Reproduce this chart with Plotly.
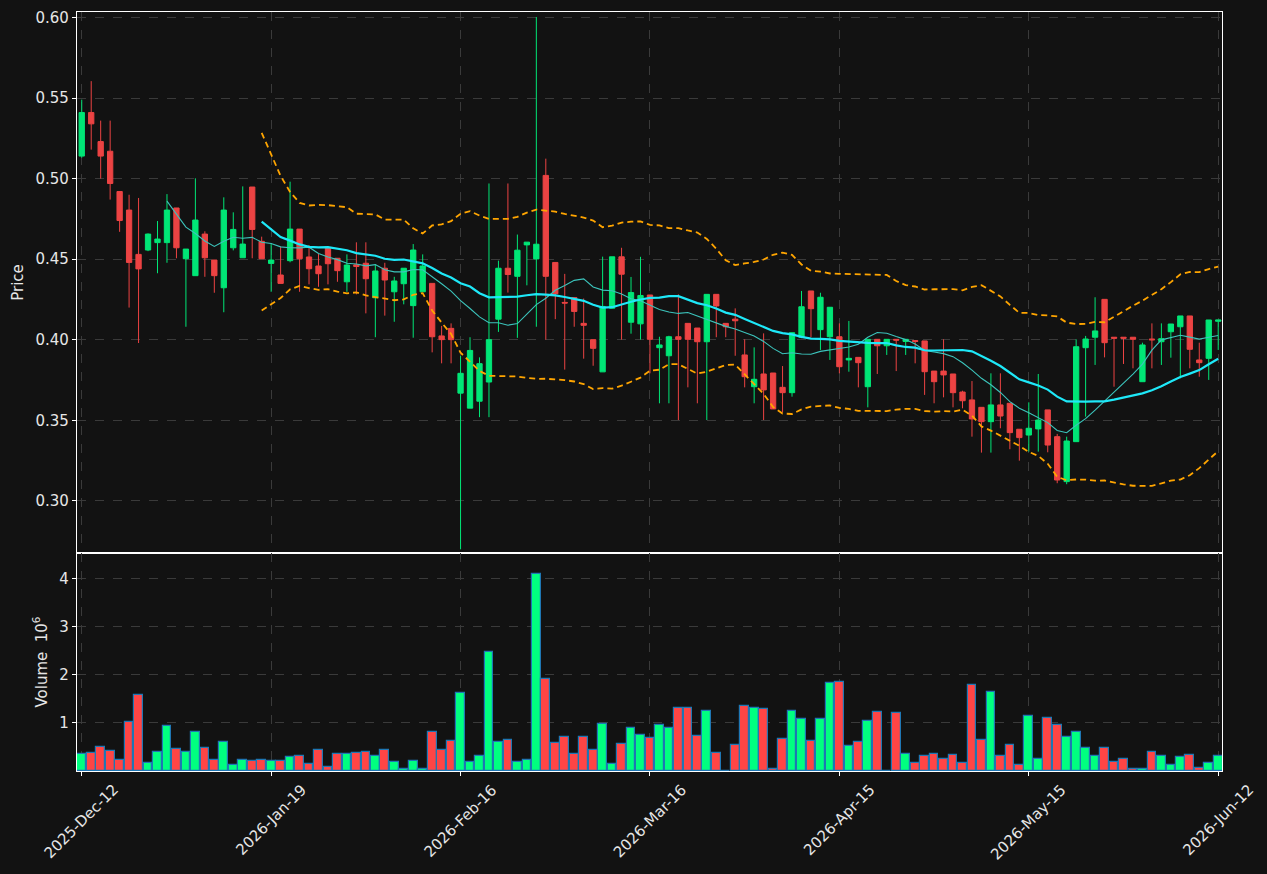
import plotly.graph_objects as go
import pandas as pd

# ---------------- data ----------------
tick_labels = ["2025-Dec-12", "2026-Jan-19", "2026-Feb-16", "2026-Mar-16",
               "2026-Apr-15", "2026-May-15", "2026-Jun-12"]

opens = [0.514, 0.541, 0.523, 0.517, 0.492, 0.4805, 0.453, 0.4557, 0.4603, 0.4603,
         0.4818, 0.4503, 0.4398, 0.4656, 0.4495, 0.4323, 0.4571, 0.4509, 0.4948, 0.4611,
         0.4474, 0.4402, 0.4491, 0.4687, 0.4514, 0.4458, 0.4571, 0.4506, 0.4360, 0.4465,
         0.4475, 0.4261, 0.4444, 0.4298, 0.4348, 0.4212, 0.4298, 0.4350, 0.4024, 0.4071,
         0.3669, 0.3576, 0.3619, 0.3738, 0.4128, 0.4444, 0.4394, 0.4589, 0.4502, 0.5020,
         0.4480, 0.4232, 0.4262, 0.4102, 0.4001, 0.3801, 0.4196, 0.4515, 0.4109, 0.4099,
         0.4278, 0.3951, 0.3901, 0.4019, 0.4102, 0.4073, 0.3988, 0.4282, 0.4102, 0.4128,
         0.3906, 0.3709, 0.3788, 0.3794, 0.3705, 0.3672, 0.4016, 0.4303, 0.4063, 0.4019,
         0.4019, 0.3875, 0.3891, 0.3709, 0.4003, 0.3963, 0.4003, 0.3990, 0.3995, 0.3993,
         0.3806, 0.3806, 0.3788, 0.3676, 0.3627, 0.3581, 0.3492, 0.3596, 0.3606, 0.3445,
         0.3409, 0.3447, 0.3565, 0.3399, 0.3120, 0.3368, 0.3951, 0.4016, 0.4251, 0.4016,
         0.4016, 0.4016, 0.3740, 0.4005, 0.3988, 0.4050, 0.4081, 0.4148, 0.3875, 0.3885,
         0.4115]
highs = [0.549, 0.5605, 0.536, 0.536, 0.492, 0.490, 0.488, 0.466, 0.4737, 0.4904,
         0.4818, 0.4563, 0.5002, 0.4673, 0.4495, 0.4884, 0.4791, 0.4952, 0.4948, 0.4640,
         0.4599, 0.4578, 0.4981, 0.4687, 0.4588, 0.4532, 0.4571, 0.4506, 0.4530, 0.4605,
         0.4605, 0.4468, 0.4478, 0.4391, 0.4444, 0.4594, 0.4530, 0.4350, 0.4086, 0.4102,
         0.3900, 0.4016, 0.3891, 0.4970, 0.4491, 0.4970, 0.4653, 0.4606, 0.6003, 0.5124,
         0.4480, 0.4409, 0.4262, 0.4256, 0.4001, 0.4516, 0.4515, 0.4571, 0.4390, 0.4515,
         0.4278, 0.4019, 0.4025, 0.4282, 0.4102, 0.4073, 0.4282, 0.4282, 0.4102, 0.4195,
         0.4003, 0.3953, 0.4040, 0.3794, 0.3837, 0.4044, 0.4303, 0.4303, 0.4292, 0.4202,
         0.4102, 0.4117, 0.3891, 0.4003, 0.4003, 0.4003, 0.4003, 0.4003, 0.3995, 0.3993,
         0.3806, 0.4003, 0.3788, 0.3684, 0.3744, 0.3581, 0.3792, 0.3792, 0.3606, 0.3445,
         0.3612, 0.3788, 0.3565, 0.3416, 0.3399, 0.4003, 0.4024, 0.4264, 0.4251, 0.4016,
         0.4016, 0.4016, 0.3982, 0.4102, 0.4102, 0.4098, 0.4148, 0.4148, 0.3982, 0.4123,
         0.4123]
lows = [0.513, 0.518, 0.500, 0.487, 0.467, 0.420, 0.398, 0.455, 0.4413, 0.4478,
        0.4506, 0.4081, 0.4398, 0.4391, 0.4292, 0.4171, 0.4555, 0.4509, 0.4506, 0.4503,
        0.4298, 0.4350, 0.4481, 0.4298, 0.4344, 0.4329, 0.4344, 0.4360, 0.4298, 0.4282,
        0.4164, 0.4016, 0.4150, 0.4112, 0.4220, 0.4013, 0.4298, 0.3922, 0.3854, 0.3854,
        0.2700, 0.3576, 0.3520, 0.3520, 0.4049, 0.4293, 0.4012, 0.4338, 0.4081, 0.4001,
        0.4128, 0.3815, 0.4081, 0.3883, 0.3839, 0.3801, 0.4196, 0.4001, 0.4038, 0.4001,
        0.3792, 0.3606, 0.3606, 0.3502, 0.3705, 0.3606, 0.3502, 0.4016, 0.4016, 0.3901,
        0.3705, 0.3606, 0.3502, 0.3571, 0.3550, 0.3647, 0.4010, 0.4016, 0.3937, 0.3875,
        0.3792, 0.3802, 0.3705, 0.3581, 0.3788, 0.3906, 0.3806, 0.3906, 0.3854, 0.3658,
        0.3606, 0.3643, 0.3581, 0.3575, 0.3399, 0.3300, 0.3300, 0.3451, 0.3321, 0.3250,
        0.3306, 0.3306, 0.3302, 0.3110, 0.3104, 0.3368, 0.3523, 0.3844, 0.3891, 0.3709,
        0.3850, 0.3823, 0.3740, 0.3823, 0.3844, 0.3889, 0.3761, 0.3823, 0.3771, 0.3751,
        0.3937]
closes = [0.541, 0.534, 0.514, 0.497, 0.474, 0.448, 0.444, 0.4656, 0.4625, 0.4805,
          0.4571, 0.4563, 0.4743, 0.4509, 0.4398, 0.4805, 0.4685, 0.4594, 0.4685, 0.4503,
          0.4495, 0.4350, 0.4687, 0.4503, 0.4441, 0.4410, 0.4472, 0.4429, 0.4464, 0.4455,
          0.4379, 0.4427, 0.4371, 0.4365, 0.4444, 0.4557, 0.4458, 0.4019, 0.4001, 0.4001,
          0.3792, 0.3934, 0.3852, 0.4001, 0.4444, 0.4405, 0.4556, 0.4606, 0.4593, 0.4394,
          0.4286, 0.4228, 0.4176, 0.4090, 0.3947, 0.4207, 0.4515, 0.4407, 0.4293, 0.4275,
          0.4003, 0.3968, 0.4019, 0.4003, 0.4003, 0.3988, 0.4282, 0.4210, 0.4081, 0.4118,
          0.3771, 0.3755, 0.3689, 0.3571, 0.3672, 0.4044, 0.4205, 0.4193, 0.4264, 0.4202,
          0.3833, 0.3885, 0.3858, 0.4003, 0.3963, 0.4003, 0.3998, 0.4003, 0.3990, 0.3802,
          0.3740, 0.3782, 0.3672, 0.3622, 0.3509, 0.3492, 0.3596, 0.3527, 0.3424, 0.3393,
          0.3451, 0.3502, 0.3347, 0.3130, 0.3372, 0.3957, 0.4005, 0.4055, 0.3982, 0.4010,
          0.4010, 0.4003, 0.3968, 0.4000, 0.4007, 0.4098, 0.4148, 0.3941, 0.3858, 0.4123,
          0.4123]
volume_millions = [0.35, 0.37, 0.49, 0.41, 0.22, 1.01, 1.58, 0.16, 0.39, 0.93,
                   0.45, 0.39, 0.81, 0.47, 0.22, 0.60, 0.12, 0.22, 0.20, 0.22,
                   0.20, 0.20, 0.29, 0.31, 0.14, 0.43, 0.08, 0.35, 0.35, 0.37,
                   0.39, 0.31, 0.43, 0.18, 0.04, 0.20, 0.04, 0.81, 0.43, 0.62,
                   1.62, 0.18, 0.31, 2.47, 0.60, 0.64, 0.18, 0.22, 4.10, 1.91,
                   0.58, 0.70, 0.35, 0.70, 0.43, 0.97, 0.14, 0.56, 0.89, 0.74,
                   0.68, 0.95, 0.89, 1.31, 1.31, 0.72, 1.24, 0.37, 0.01, 0.54,
                   1.35, 1.31, 1.29, 0.04, 0.66, 1.24, 1.08, 0.62, 1.08, 1.83,
                   1.85, 0.52, 0.60, 1.04, 1.22, 0.01, 1.20, 0.35, 0.16, 0.31,
                   0.35, 0.26, 0.33, 0.16, 1.79, 0.64, 1.64, 0.31, 0.54, 0.12,
                   1.14, 0.26, 1.10, 0.95, 0.70, 0.81, 0.47, 0.31, 0.47, 0.18,
                   0.24, 0.04, 0.04, 0.39, 0.31, 0.12, 0.29, 0.33, 0.06, 0.16,
                   0.31]

# ---------------- derived series ----------------
n = len(closes)
idx = list(range(n))
close_s = pd.Series(closes)
ma_short = close_s.rolling(10).mean()
ma_long = close_s.rolling(20).mean()
sd = close_s.rolling(20).std(ddof=0)
bb_up = ma_long + 2 * sd
bb_lo = ma_long - 2 * sd

UP_C, DN_C = "#00e676", "#ec4343"
VUP_C, VDN_C = "#00ff80", "#ff4545"
vol_colors = [VUP_C if c >= o else VDN_C for o, c in zip(opens, closes)]

BG = "#121212"
GRID = "#3a3a3a"
TXT = "#e6e6e6"
FONT = "DejaVu Sans"

fig = go.Figure()
fig.add_trace(go.Candlestick(
    x=idx, open=opens, high=highs, low=lows, close=closes,
    increasing=dict(line=dict(color=UP_C, width=1), fillcolor=UP_C),
    decreasing=dict(line=dict(color=DN_C, width=1), fillcolor=DN_C),
    whiskerwidth=0, xaxis="x", yaxis="y", showlegend=False))

fig.add_trace(go.Scatter(x=idx, y=ma_short, mode="lines",
                         line=dict(color="#3cc4bc", width=1.1),
                         xaxis="x", yaxis="y", showlegend=False))
fig.add_trace(go.Scatter(x=idx, y=ma_long, mode="lines",
                         line=dict(color="#1ee8f8", width=2.2),
                         xaxis="x", yaxis="y", showlegend=False))
for band in (bb_up, bb_lo):
    fig.add_trace(go.Scatter(x=idx, y=band, mode="lines",
                             line=dict(color="#ffa500", width=1.8, dash="6px,4px"),
                             xaxis="x", yaxis="y", showlegend=False))

fig.add_trace(go.Bar(x=idx, y=volume_millions, width=0.92,
                     marker=dict(color=vol_colors, line=dict(color="#1f77b4", width=1.2)),
                     xaxis="x2", yaxis="y2", showlegend=False))

tickvals_x = list(range(0, n, 20))
split = 0.2872
xr = [-0.5, 120.4]
common_axis = dict(showline=True, linecolor="#ffffff", linewidth=1.2, mirror=True,
                   showgrid=True, gridcolor=GRID, griddash="dash", gridwidth=1,
                   zeroline=False, ticklen=4, tickcolor="#ffffff", automargin=False,
                   tickfont=dict(family=FONT, size=15, color=TXT))

# rotated date labels centred under their ticks (matplotlib style)
annotations = [dict(x=v, xref="x2", y=0, yref="paper", yshift=-7,
                    text=lab, showarrow=False, textangle=-45,
                    xanchor="center", yanchor="top",
                    font=dict(family=FONT, size=15, color=TXT))
               for v, lab in zip(tickvals_x, tick_labels)]

fig.update_layout(
    width=1267, height=874,
    margin=dict(l=77, r=45, t=12, b=103),
    paper_bgcolor=BG, plot_bgcolor=BG,
    font=dict(family=FONT, color=TXT, size=15),
    boxgap=0.2,
    bargap=0,
    annotations=annotations,
    xaxis=dict(domain=[0, 1], anchor="y", range=xr, tickvals=tickvals_x,
               showticklabels=False, rangeslider=dict(visible=False),
               ticks="", **common_axis),
    xaxis2=dict(domain=[0, 1], anchor="y2", range=xr, matches="x",
                tickvals=tickvals_x, showticklabels=False, ticks="outside",
                **common_axis),
    yaxis=dict(domain=[split, 1], anchor="x", range=[0.2677, 0.6034],
               tickvals=[0.30, 0.35, 0.40, 0.45, 0.50, 0.55, 0.60], tickformat=".2f",
               ticks="outside",
               title=dict(text="Price", standoff=8,
                          font=dict(family=FONT, size=15, color=TXT)),
               **common_axis),
    yaxis2=dict(domain=[0, split], anchor="x2", range=[0, 4.54],
                tickvals=[1, 2, 3, 4], ticks="outside",
                title=dict(text="Volume  10<sup>6</sup>", standoff=8,
                           font=dict(family=FONT, size=15, color=TXT)),
                **common_axis),
)

fig.write_html("out.html")
